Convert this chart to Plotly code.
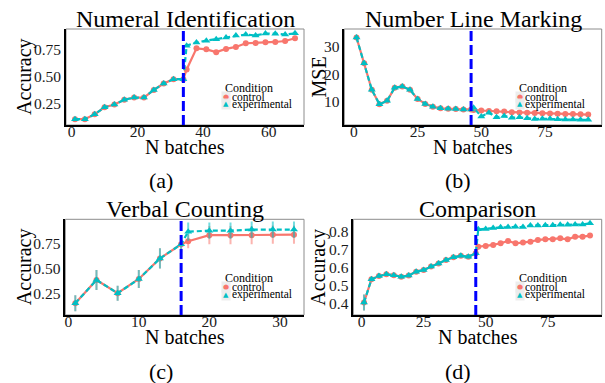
import plotly.graph_objects as go

# ---------------- data ----------------
a_pre_batch = [1, 4, 7, 10, 13, 16, 19, 22, 25, 28, 31, 34]
a_pre_acc = [0.11, 0.11, 0.155, 0.22, 0.245, 0.29, 0.31, 0.31, 0.38, 0.44, 0.48, 0.48]
a_post_batch = [35, 38, 41, 44, 47, 50, 53, 56, 59, 62, 65, 68]
a_ctrl_post = [0.57, 0.765, 0.756, 0.73, 0.76, 0.778, 0.812, 0.815, 0.822, 0.824, 0.833, 0.858]
a_exp_post = [0.79, 0.82, 0.836, 0.85, 0.866, 0.883, 0.893, 0.885, 0.902, 0.90, 0.893, 0.904]

b_pre_batch = [1, 4, 7, 10, 13, 16, 19, 22, 25, 28, 31, 34, 37, 40, 43, 46]
b_pre_mse = [33.3, 24.0, 14.3, 9.1, 10.3, 15.1, 15.5, 14.3, 11.0, 9.2, 8.2, 7.6, 7.4, 7.3, 7.2, 7.2]
b_post_batch = [47, 50, 53, 56, 59, 62, 65, 68, 71, 74, 77, 80, 83, 86, 89, 92]
b_ctrl_post = [7.0, 6.8, 6.6, 6.5, 6.4, 6.2, 6.1, 6.0, 5.9, 5.8, 5.7, 5.6, 5.5, 5.5, 5.4, 5.3]
b_exp_post = [7.8, 4.6, 6.0, 4.3, 4.8, 4.2, 4.3, 4.0, 3.7, 3.8, 3.8, 3.6, 3.5, 3.5, 3.4, 3.4]

c_pre_batch = [1, 4, 7, 10, 13, 16]
c_pre_acc = [0.157, 0.387, 0.256, 0.397, 0.60, 0.74]
c_pre_err = [0.08, 0.10, 0.075, 0.09, 0.10, 0.08]
c_post_batch = [17, 20, 23, 26, 29, 32]
c_ctrl_post = [0.77, 0.83, 0.83, 0.83, 0.835, 0.835]
c_ctrl_err = [0.07, 0.09, 0.09, 0.09, 0.09, 0.09]
c_exp_post = [0.865, 0.875, 0.875, 0.885, 0.885, 0.885]
c_exp_err = [0.09, 0.08, 0.08, 0.08, 0.08, 0.08]

d_pre_batch = [1, 4, 7, 10, 13, 16, 19, 22, 25, 28, 31, 34, 37, 40, 43, 46]
d_pre_acc = [0.405, 0.534, 0.552, 0.562, 0.557, 0.549, 0.555, 0.577, 0.586, 0.605,
             0.623, 0.642, 0.657, 0.666, 0.66, 0.679]
d_pre_err = [0.045, 0.012, 0.01, 0.01, 0.01, 0.01, 0.01, 0.01, 0.01, 0.01,
             0.01, 0.01, 0.01, 0.01, 0.01, 0.012]
d_post_batch = [47, 50, 53, 56, 59, 62, 65, 68, 71, 74, 77, 80, 83, 86, 89, 92]
d_ctrl_post = [0.716, 0.72, 0.726, 0.735, 0.748, 0.735, 0.739, 0.744, 0.754, 0.757,
               0.757, 0.763, 0.757, 0.772, 0.772, 0.778]
d_exp_post = [0.813, 0.815, 0.82, 0.824, 0.826, 0.828, 0.826, 0.835, 0.835, 0.836,
              0.836, 0.838, 0.838, 0.84, 0.84, 0.847]

cutoffs = [34, 46, 16, 46]
titles = ["Numeral Identification", "Number Line Marking", "Verbal Counting", "Comparison"]
ylabels = ["Accuracy", "MSE", "Accuracy", "Accuracy"]
xlabel = "N batches"
captions = ["(a)", "(b)", "(c)", "(d)"]
legend_title = "Condition"
conditions = ["control", "experimental"]

a_xticks = [0, 20, 40, 60]
a_yticks = [0.25, 0.50, 0.75]
a_yticklabels = ["0.25", "0.50", "0.75"]
b_xticks = [0, 25, 50, 75]
b_yticks = [10, 20, 30]
c_xticks = [0, 10, 20, 30]
c_yticks = [0.25, 0.50, 0.75]
c_yticklabels = ["0.25", "0.50", "0.75"]
d_xticks = [0, 25, 50, 75]
d_yticks = [0.4, 0.5, 0.6, 0.7, 0.8]
d_yticklabels = ["0.4", "0.5", "0.6", "0.7", "0.8"]

# ---------------- style / layout ----------------
W, H = 605, 383
FONT = "Liberation Serif"
RED = "#F8766D"
CYAN = "#00BFC4"


def px(x):
    return x / W


def py(y):
    return 1 - y / H


# plot areas in pixels: (left, right, top, bottom)
areas = [(66, 304, 29, 125), (344.3, 601.7, 29, 125),
         (65.3, 304, 219.3, 315), (353.3, 601.7, 219.3, 315)]
xranges = [[-1.74, 70.74], [-3.8, 97.3], [-0.42, 33.42], [-3.31, 96.7]]
yranges = [[0.056, 0.944], [1.53, 36.4], [0.041, 0.987], [0.335, 0.869]]

fig = go.Figure()

panels = [
    (a_pre_batch, a_pre_acc, None, a_post_batch, a_ctrl_post, None, a_exp_post, None),
    (b_pre_batch, b_pre_mse, None, b_post_batch, b_ctrl_post, None, b_exp_post, None),
    (c_pre_batch, c_pre_acc, c_pre_err, c_post_batch, c_ctrl_post, c_ctrl_err, c_exp_post, c_exp_err),
    (d_pre_batch, d_pre_acc, d_pre_err, d_post_batch, d_ctrl_post, None, d_exp_post, None),
]

for i, (pb, pv, pe, qb, cv, ce, ev, ee) in enumerate(panels):
    sfx = "" if i == 0 else str(i + 1)
    xa, ya = "x" + sfx, "y" + sfx
    ctrl_err = None
    exp_err = None
    if pe is not None:
        ctrl_err = dict(type="data", array=list(pe) + (list(ce) if ce is not None else [0] * len(qb)),
                        color="rgba(248,118,109,0.55)", thickness=2, width=0)
        exp_err = dict(type="data", array=list(pe) + (list(ee) if ee is not None else [0] * len(qb)),
                       color="rgba(0,191,196,0.55)", thickness=2, width=0)
    fig.add_trace(go.Scatter(
        x=list(pb) + list(qb), y=list(pv) + list(cv), mode="lines+markers",
        line=dict(color=RED, width=2.2), marker=dict(symbol="circle", size=6, color=RED),
        error_y=ctrl_err, xaxis=xa, yaxis=ya, showlegend=False, name=conditions[0]))
    fig.add_trace(go.Scatter(
        x=list(pb) + list(qb), y=list(pv) + list(ev), mode="lines+markers",
        line=dict(color=CYAN, width=2.2, dash="5px,3px"),
        marker=dict(symbol="triangle-up", size=7, color=CYAN),
        error_y=exp_err, xaxis=xa, yaxis=ya, showlegend=False, name=conditions[1]))

tickvals = [(a_xticks, a_yticks, a_yticklabels), (b_xticks, b_yticks, [str(v) for v in b_yticks]),
            (c_xticks, c_yticks, c_yticklabels), (d_xticks, d_yticks, d_yticklabels)]

layout = dict(width=W, height=H, margin=dict(l=0, r=0, t=0, b=0),
              paper_bgcolor="white", plot_bgcolor="white",
              font=dict(family=FONT, color="black"))
shapes = []
annotations = []
for i, (l, r, t, b) in enumerate(areas):
    sfx = "" if i == 0 else str(i + 1)
    xt, yt, ytl = tickvals[i]
    layout["xaxis" + sfx] = dict(domain=[px(l), px(r)], anchor="y" + sfx, range=xranges[i],
                                 tickvals=xt, ticktext=[str(v) for v in xt],
                                 showgrid=False, zeroline=False, showline=True,
                                 linecolor="black", linewidth=1.6, ticks="",
                                 ticklabelstandoff=-8,
                                 tickfont=dict(family=FONT, size=15.5, color="#1a1a1a"))
    layout["yaxis" + sfx] = dict(domain=[py(b), py(t)], anchor="x" + sfx, range=yranges[i],
                                 tickvals=yt, ticktext=ytl,
                                 showgrid=False, zeroline=False, showline=True,
                                 linecolor="black", linewidth=1.6, ticks="",
                                 tickfont=dict(family=FONT, size=15.5, color="#1a1a1a"))
    # panel border (top/right thin grey)
    shapes.append(dict(type="rect", xref="x" + sfx + " domain", yref="y" + sfx + " domain",
                       x0=0, x1=1, y0=0, y1=1, line=dict(color="#8c8c8c", width=1),
                       layer="below"))
    # cutoff dashed line
    shapes.append(dict(type="line", xref="x" + sfx, yref="y" + sfx + " domain",
                       x0=cutoffs[i], x1=cutoffs[i], y0=0, y1=1,
                       line=dict(color="#0000FF", width=3, dash="10px,4px")))
    cx = (l + r) / 2
    # title
    annotations.append(dict(text=titles[i], x=px(cx), y=py(t - 10), xref="paper", yref="paper",
                            xanchor="center", yanchor="middle", showarrow=False,
                            font=dict(family=FONT, size=24, color="black")))
    # x axis title
    annotations.append(dict(text=xlabel, x=px(cx), y=py(b + 21.5), xref="paper", yref="paper",
                            xanchor="center", yanchor="middle", showarrow=False,
                            font=dict(family=FONT, size=20, color="black")))
    # y axis title
    ylx = 24 if i in (0, 2) else 318.5
    annotations.append(dict(text=ylabels[i], x=px(ylx), y=py((t + b) / 2), xref="paper", yref="paper",
                            xanchor="center", yanchor="middle", textangle=-90, showarrow=False,
                            font=dict(family=FONT, size=20, color="black")))
    # caption
    capx = 160.5 if i in (0, 2) else 458
    capy = 180.5 if i < 2 else 371
    annotations.append(dict(text=captions[i], x=px(capx), y=py(capy), xref="paper", yref="paper",
                            xanchor="center", yanchor="middle", showarrow=False,
                            font=dict(family=FONT, size=22, color="black")))
    # legend (drawn as text)
    lx = 223 if i in (0, 2) else 516.5
    ly = 88 if i < 2 else 278.3
    annotations.append(dict(text=legend_title, x=px(lx), y=py(ly), xref="paper", yref="paper",
                            xanchor="left", yanchor="middle", showarrow=False,
                            font=dict(family=FONT, size=12, color="black")))
    for k, (sym, col) in enumerate([("\u25CF", RED), ("\u25B2", CYAN)]):
        yy = ly + 8.5 + 8 * k
        annotations.append(dict(text=sym, x=px(lx + 3), y=py(yy), xref="paper", yref="paper",
                                xanchor="center", yanchor="middle", showarrow=False,
                                bgcolor="rgba(235,235,235,0.9)",
                                font=dict(family="DejaVu Sans", size=7, color=col)))
        annotations.append(dict(text=conditions[k], x=px(lx + 6.5), y=py(yy), xref="paper", yref="paper",
                                xanchor="left", yanchor="middle", showarrow=False,
                                font=dict(family=FONT, size=11.5, color="black")))

layout["shapes"] = shapes
layout["annotations"] = annotations
fig.update_layout(**layout)
fig.write_html("out.html", config={"displayModeBar": False},
               post_script="document.body.style.margin='0px';")
